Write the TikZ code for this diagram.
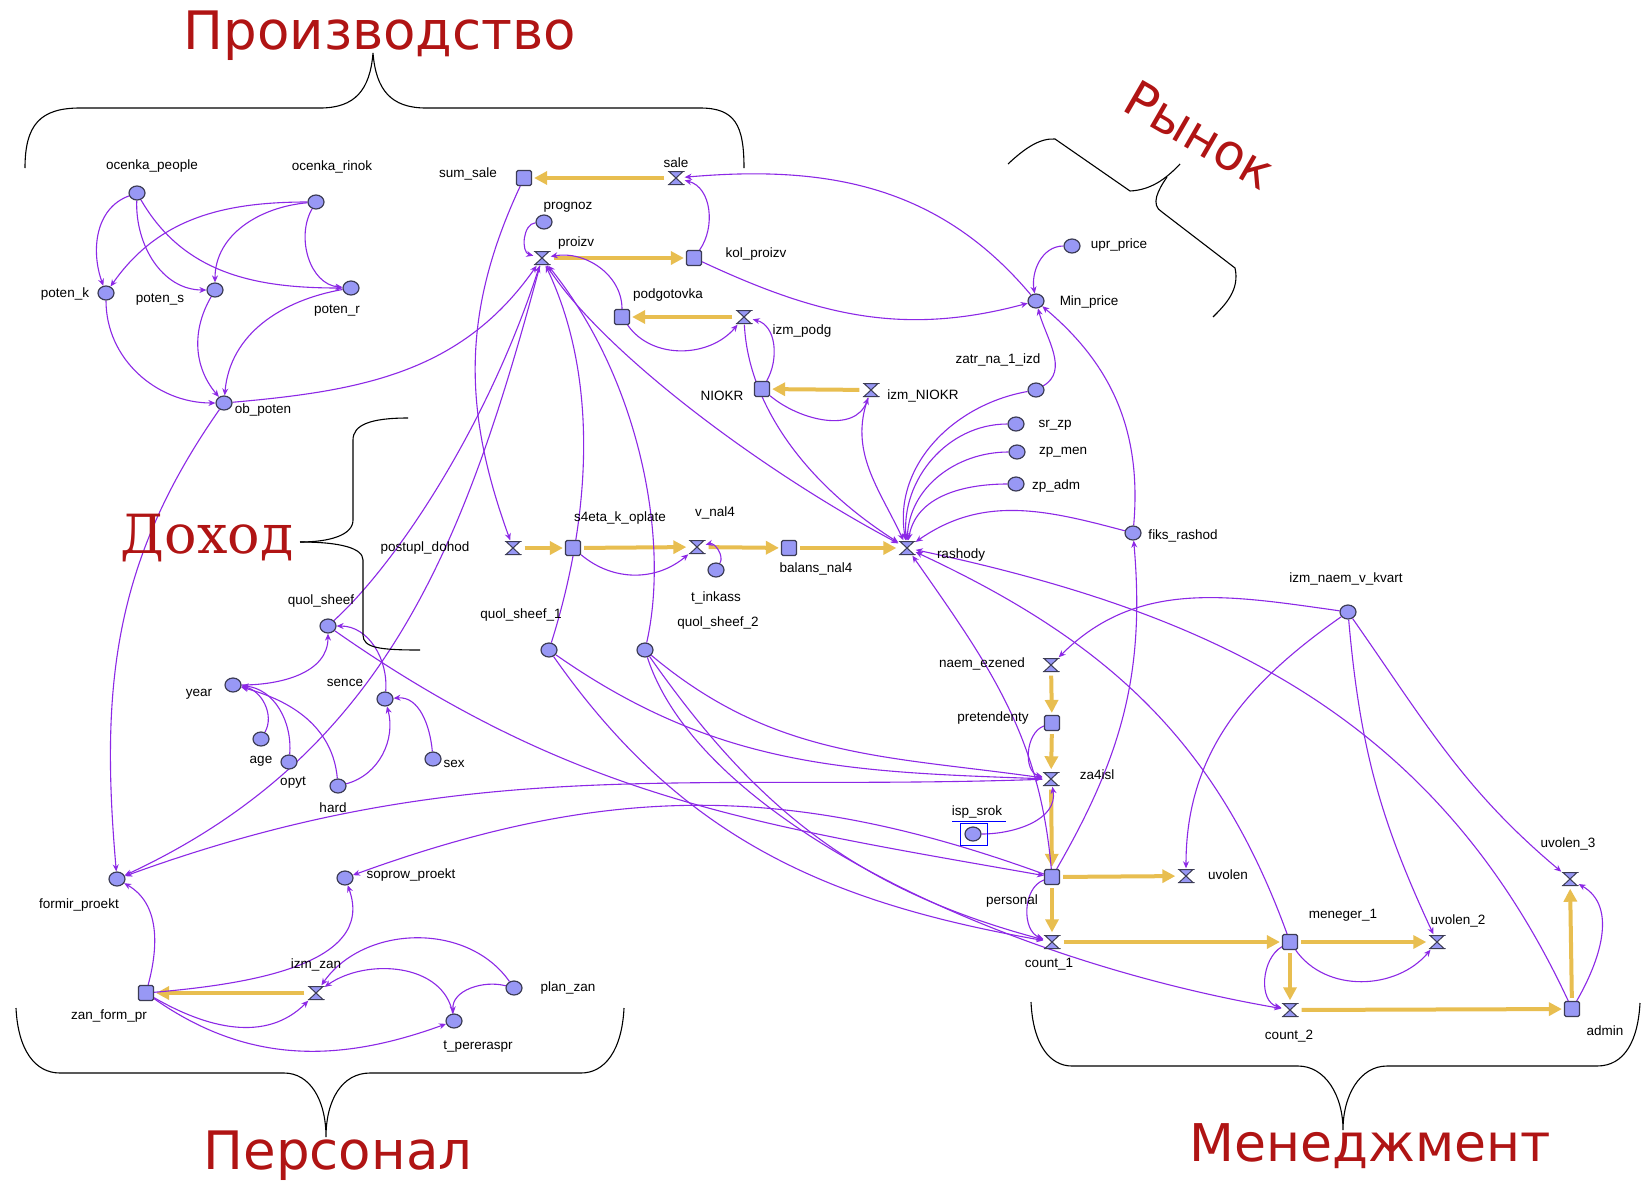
\documentclass[tikz,border=0pt]{standalone}
\usepackage{fontspec}
\setmainfont{Liberation Sans}
\newfontfamily\bigsans{DejaVu Sans}
\newfontfamily\bigserif{DejaVu Serif}
\usetikzlibrary{arrows.meta,shapes.geometric}
\pgfdeclarelayer{bg}
\pgfdeclarelayer{paper}
\pgfsetlayers{paper,bg,main}
\definecolor{linkc}{RGB}{140,40,230}
\definecolor{flowc}{RGB}{232,190,80}
\definecolor{nodefill}{RGB}{152,152,245}
\definecolor{nodedraw}{RGB}{60,60,85}
\definecolor{redtext}{RGB}{176,20,20}
\tikzset{
 aux/.style={ellipse,minimum width=16pt,minimum height=14pt,inner sep=0pt,fill=nodefill,draw=nodedraw,line width=1.2pt},
 stock/.style={rectangle,minimum size=15pt,inner sep=0pt,rounded corners=1.5pt,fill=nodefill,draw=nodedraw,line width=1.2pt},
 valve/.style={rectangle,minimum width=17pt,minimum height=15pt,inner sep=0pt,
  path picture={
   \path[fill=nodefill,draw=nodedraw,line width=1pt]
    ([xshift=1.5pt,yshift=-1pt]path picture bounding box.north west) --
    ([xshift=-1.5pt,yshift=-1pt]path picture bounding box.north east) --
    ([xshift=1.5pt,yshift=1pt]path picture bounding box.south west) --
    ([xshift=-1.5pt,yshift=1pt]path picture bounding box.south east) -- cycle;
   \draw[nodedraw,line width=1.8pt]
    ([yshift=-1pt]path picture bounding box.north west) -- ([yshift=-1pt]path picture bounding box.north east)
    ([yshift=1pt]path picture bounding box.south west) -- ([yshift=1pt]path picture bounding box.south east);
  }},
 lbl/.style={font=\fontsize{13.5}{15}\selectfont,inner sep=0pt,text=black},
 lnk/.style={draw=linkc,line width=1.1pt,-{Stealth[length=7pt,width=6pt]}},
 flow/.style={draw=flowc,line width=4pt,-{Triangle[length=13pt,width=13pt]},shorten >=2pt,shorten <=3pt},
 brace/.style={draw=black,line width=1.1pt},
 big/.style={text=redtext,inner sep=0pt}
}
\begin{document}
\begin{tikzpicture}[x=1pt,y=1pt]
\begin{pgfonlayer}{paper}
\fill[white] (0,0) rectangle (1648,-1181);
\end{pgfonlayer}
\useasboundingbox (0,0) rectangle (1648,-1181);

% ---------- big titles ----------
\node[big,font=\bigsans\fontsize{53}{60}\selectfont] (tProd) at (380,-36) {Производство};
\node[big,font=\bigsans\fontsize{50}{60}\selectfont,rotate=-30] (tRyn) at (1200,-135) {Рынок};
\node[big,font=\bigserif\fontsize{54}{60}\selectfont] (tDoh) at (207,-538) {Доход};
\node[big,font=\bigsans\fontsize{53}{60}\selectfont] (tPers) at (338,-1156) {Персонал};
\node[big,font=\bigsans\fontsize{52}{60}\selectfont] (tMen) at (1370,-1146) {Менеджмент};

% ---------- braces ----------
\draw[brace] (25,-168) .. controls (25,-125) and (40,-108) .. (80,-108) -- (320,-108)
  .. controls (355,-108) and (370,-90) .. (373,-53) .. controls (376,-90) and (391,-108) .. (426,-108)
  -- (700,-108) .. controls (735,-108) and (744,-125) .. (744,-168);
\draw[brace] (1008,-164) .. controls (1025,-148) and (1040,-138) .. (1055,-139) -- (1130,-191)
  .. controls (1150,-190) and (1165,-180) .. (1180,-164);
\draw[brace] (1167,-177) .. controls (1158,-190) and (1150,-205) .. (1162,-212) -- (1235,-268)
  .. controls (1240,-290) and (1225,-305) .. (1213,-317);
\draw[brace] (408,-418) .. controls (370,-418) and (353,-425) .. (353,-440) -- (353,-520)
  .. controls (353,-535) and (330,-542) .. (300,-542);
\draw[brace] (300,-542) .. controls (340,-542) and (363,-548) .. (363,-560) -- (363,-635)
  .. controls (363,-648) and (380,-650) .. (420,-650);
\draw[brace] (16,-1008) .. controls (18,-1050) and (35,-1073) .. (60,-1073) -- (284,-1073)
  .. controls (310,-1073) and (326,-1100) .. (326,-1137) .. controls (326,-1100) and (342,-1073) .. (370,-1073)
  -- (581,-1073) .. controls (605,-1073) and (622,-1050) .. (624,-1008);
\draw[brace] (1031,-1002) .. controls (1033,-1045) and (1050,-1066) .. (1072,-1066) -- (1298,-1066)
  .. controls (1325,-1066) and (1343,-1095) .. (1343,-1130) .. controls (1343,-1095) and (1360,-1066) .. (1387,-1066)
  -- (1597,-1066) .. controls (1625,-1066) and (1638,-1040) .. (1640,-1003);

% ---------- nodes ----------
\node[aux] (ocp) at (137,-193) {};
\node[aux] (ocr) at (316,-202) {};
\node[aux] (potk) at (106,-293) {};
\node[aux] (pots) at (215,-290) {};
\node[aux] (potr) at (351,-288) {};
\node[aux] (obp) at (224,-403) {};
\node[stock] (sumsale) at (524,-178) {};
\node[valve] (sale) at (676,-178) {};
\node[aux] (prognoz) at (544,-222) {};
\node[valve] (proizv) at (542,-258) {};
\node[stock] (kolproizv) at (694,-258) {};
\node[stock] (podg) at (622,-317) {};
\node[valve] (izmpodg) at (744,-317) {};
\node[stock] (niokr) at (762,-389) {};
\node[valve] (izmniokr) at (871,-390) {};
\node[aux] (uprprice) at (1072,-246) {};
\node[aux] (minprice) at (1036,-301) {};
\node[aux] (zatr) at (1036,-390) {};
\node[aux] (srzp) at (1016,-424) {};
\node[aux] (zpmen) at (1017,-452) {};
\node[aux] (zpadm) at (1016,-484) {};
\node[aux] (fiks) at (1133,-533) {};
\node[valve] (rashody) at (907,-548) {};
\node[valve] (postupl) at (513,-548) {};
\node[stock] (s4eta) at (573,-548) {};
\node[valve] (vnal) at (697,-547) {};
\node[aux] (tinkass) at (716,-570) {};
\node[stock] (balans) at (789,-548) {};
\node[aux] (qs) at (328,-626) {};
\node[aux] (qs1) at (549,-650) {};
\node[aux] (qs2) at (645,-650) {};
\node[aux] (year) at (233,-685) {};
\node[aux] (sence) at (385,-699) {};
\node[aux] (sex) at (433,-759) {};
\node[aux] (agec) at (261,-739) {};
\node[aux] (opyt) at (289,-762) {};
\node[aux] (hard) at (338,-786) {};
\node[valve] (naem) at (1051,-665) {};
\node[stock] (pret) at (1052,-723) {};
\node[valve] (za4isl) at (1051,-779) {};
\node[aux] (ispsrok) at (973,-834) {};
\node[stock] (personal) at (1052,-877) {};
\node[valve] (uvolen) at (1186,-876) {};
\node[valve] (count1) at (1052,-942) {};
\node[stock] (men1) at (1290,-942) {};
\node[valve] (uvolen2) at (1437,-942) {};
\node[valve] (count2) at (1290,-1010) {};
\node[stock] (admin) at (1572,-1009) {};
\node[valve] (uvolen3) at (1570,-879) {};
\node[aux] (izmnaem) at (1348,-612) {};
\node[aux] (formir) at (117,-879) {};
\node[aux] (soprow) at (345,-878) {};
\node[stock] (zanform) at (146,-993) {};
\node[valve] (izmzan) at (316,-993) {};
\node[aux] (planzan) at (514,-988) {};
\node[aux] (tper) at (454,-1021) {};

\draw[blue,line width=1pt] (960,-823) rectangle (987,-845);
\draw[blue,line width=1pt] (952,-821) -- (1006,-821);

% ---------- labels ----------
\node[lbl] (l1) at (152,-166) {ocenka\_people};
\node[lbl] (l2) at (332,-167) {ocenka\_rinok};
\node[lbl] (l3) at (65,-294) {poten\_k};
\node[lbl] (l4) at (160,-300) {poten\_s};
\node[lbl] (l5) at (337,-311) {poten\_r};
\node[lbl] (l6) at (263,-410) {ob\_poten};
\node[lbl] (l7) at (468,-174) {sum\_sale};
\node[lbl] (l8) at (676,-163) {sale};
\node[lbl] (l9) at (568,-207) {prognoz};
\node[lbl] (l10) at (576,-243) {proizv};
\node[lbl] (l11) at (756,-254) {kol\_proizv};
\node[lbl] (l12) at (668,-295) {podgotovka};
\node[lbl] (l13) at (802,-331) {izm\_podg};
\node[lbl] (l14) at (722,-396) {NIOKR};
\node[lbl] (l15) at (923,-396) {izm\_NIOKR};
\node[lbl] (l16) at (1119,-245) {upr\_price};
\node[lbl] (l17) at (1089,-302) {Min\_price};
\node[lbl] (l18) at (998,-360) {zatr\_na\_1\_izd};
\node[lbl] (l19) at (1055,-425) {sr\_zp};
\node[lbl] (l20) at (1063,-452) {zp\_men};
\node[lbl] (l21) at (1056,-486) {zp\_adm};
\node[lbl] (l22) at (1183,-536) {fiks\_rashod};
\node[lbl] (l23) at (961,-555) {rashody};
\node[lbl] (l24) at (425,-548) {postupl\_dohod};
\node[lbl] (l25) at (620,-518) {s4eta\_k\_oplate};
\node[lbl] (l26) at (715,-513) {v\_nal4};
\node[lbl] (l27) at (716,-598) {t\_inkass};
\node[lbl] (l28) at (816,-569) {balans\_nal4};
\node[lbl] (l29) at (321,-601) {quol\_sheef};
\node[lbl] (l30) at (521,-615) {quol\_sheef\_1};
\node[lbl] (l31) at (718,-623) {quol\_sheef\_2};
\node[lbl] (l32) at (199,-694) {year};
\node[lbl] (l33) at (345,-683) {sence};
\node[lbl] (l34) at (454,-764) {sex};
\node[lbl] (l35) at (261,-761) {age};
\node[lbl] (l36) at (293,-783) {opyt};
\node[lbl] (l37) at (333,-808) {hard};
\node[lbl] (l38) at (1346,-579) {izm\_naem\_v\_kvart};
\node[lbl] (l39) at (982,-664) {naem\_ezened};
\node[lbl] (l40) at (993,-718) {pretendenty};
\node[lbl] (l41) at (1097,-775) {za4isl};
\node[lbl] (l42) at (977,-812) {isp\_srok};
\node[lbl] (l43) at (1012,-901) {personal};
\node[lbl] (l44) at (1228,-875) {uvolen};
\node[lbl] (l45) at (1049,-964) {count\_1};
\node[lbl] (l46) at (1343,-915) {meneger\_1};
\node[lbl] (l47) at (1458,-921) {uvolen\_2};
\node[lbl] (l48) at (1289,-1036) {count\_2};
\node[lbl] (l49) at (1605,-1031) {admin};
\node[lbl] (l50) at (1568,-844) {uvolen\_3};
\node[lbl] (l51) at (79,-905) {formir\_proekt};
\node[lbl] (l52) at (411,-875) {soprow\_proekt};
\node[lbl] (l53) at (109,-1016) {zan\_form\_pr};
\node[lbl] (l54) at (316,-965) {izm\_zan};
\node[lbl] (l55) at (568,-988) {plan\_zan};
\node[lbl] (l56) at (478,-1047) {t\_pereraspr};

\begin{pgfonlayer}{bg}
% ---------- flows ----------
\draw[flow] (sale) -- (sumsale);
\draw[flow] (proizv) -- (kolproizv);
\draw[flow] (izmpodg) -- (podg);
\draw[flow] (izmniokr) -- (niokr);
\draw[flow] (postupl) -- (s4eta);
\draw[flow] (s4eta) -- (vnal);
\draw[flow] (vnal) -- (balans);
\draw[flow] (balans) -- (rashody);
\draw[flow] (naem) -- (pret);
\draw[flow] (pret) -- (za4isl);
\draw[flow] (za4isl) -- (personal);
\draw[flow] (personal) -- (uvolen);
\draw[flow] (personal) -- (count1);
\draw[flow] (count1) -- (men1);
\draw[flow] (men1) -- (uvolen2);
\draw[flow] (men1) -- (count2);
\draw[flow] (count2) -- (admin);
\draw[flow] (admin) -- (uvolen3);
\draw[flow] (izmzan) -- (zanform);

% ---------- links: production ----------
\draw[lnk] (ocp) to[out=200,in=110] (potk);
\draw[lnk] (ocp) to[out=268,in=180] (pots);
\draw[lnk] (ocp) to[out=-60,in=180] (potr);
\draw[lnk] (ocr) to[out=180,in=55] (potk);
\draw[lnk] (ocr) to[out=185,in=90] (pots);
\draw[lnk] (ocr) to[out=240,in=175] (potr);
\draw[lnk] (potk) to[out=270,in=180] (obp);
\draw[lnk] (pots) to[out=240,in=130] (obp);
\draw[lnk] (potr) to[out=190,in=85] (obp);
\draw[lnk] (obp) to[out=5,in=235] (proizv);
\draw[lnk] (obp) to[out=235,in=95] (formir);
\draw[lnk] (sumsale) to[out=245,in=110] (postupl);
\draw[lnk] (prognoz) to[out=185,in=165] (proizv);
\draw[lnk] (podg) to[out=90,in=10] (proizv);
\draw[lnk] (kolproizv) to[out=55,in=-15] (sale);
\draw[lnk] (minprice) to[out=130,in=5] (sale);
\draw[lnk] (kolproizv) to[out=-25,in=195] (minprice);
\draw[lnk] (uprprice) to[out=180,in=100] (minprice);
\draw[lnk] (fiks) to[out=85,in=-40] (minprice);
\draw[lnk] (zatr) to[out=30,in=-75] (minprice);
\draw[lnk] (podg) to[out=-55,in=230] (izmpodg);
\draw[lnk] (niokr) to[out=60,in=-15] (izmpodg);
\draw[lnk] (niokr) to[out=-40,in=250] (izmniokr);
\draw[lnk] (izmpodg) .. controls (748,-400) and (800,-480) .. (rashody);
\draw[lnk] (izmniokr) to[out=250,in=115] (rashody);
\draw[lnk] (proizv) .. controls (600,-350) and (760,-470) .. (rashody);
\draw[lnk] (srzp) to[out=180,in=95] (rashody);
\draw[lnk] (zpmen) to[out=180,in=88] (rashody);
\draw[lnk] (zpadm) to[out=180,in=80] (rashody);
\draw[lnk] (zatr) to[out=190,in=100] (rashody);
\draw[lnk] (fiks) to[out=165,in=35] (rashody);
\draw[lnk] (personal) to[out=95,in=-55] (rashody);
\draw[lnk] (men1) to[out=110,in=-25] (rashody);
\draw[lnk] (admin) to[out=115,in=-12] (rashody);
\draw[lnk] (personal) to[out=60,in=-85] (fiks);
\draw[lnk] (s4eta) to[out=-40,in=220] (vnal);
\draw[lnk] (tinkass) to[out=60,in=15] (vnal);

% ---------- links: income / quality ----------
\draw[lnk] (qs) .. controls (400,-560) and (490,-420) .. (proizv);
\draw[lnk] (proizv) to[out=255,in=25] (formir);
\draw[lnk] (qs1) .. controls (590,-520) and (600,-380) .. (proizv);
\draw[lnk] (qs2) .. controls (670,-540) and (640,-380) .. (proizv);
\draw[lnk] (year) to[out=0,in=-90] (qs);
\draw[lnk] (agec) to[out=60,in=-10] (year);
\draw[lnk] (opyt) to[out=85,in=-5] (year);
\draw[lnk] (hard) to[out=95,in=-15] (year);
\draw[lnk] (hard) to[out=15,in=-75] (sence);
\draw[lnk] (sex) to[out=95,in=5] (sence);
\draw[lnk] (sence) to[out=85,in=0] (qs);

% ---------- links: middle bundle ----------
\draw[lnk] (qs) to[out=-35,in=170] (personal);
\draw[lnk] (qs1) to[out=-35,in=178] (za4isl);
\draw[lnk] (qs2) to[out=-40,in=172] (za4isl);
\draw[lnk] (za4isl) to[out=182,in=20] (formir);
\draw[lnk] (personal) to[out=160,in=20] (soprow);
\draw[lnk] (qs1) to[out=-55,in=170] (count1);
\draw[lnk] (qs2) to[out=-55,in=165] (count1);
\draw[lnk] (qs2) .. controls (700,-820) and (1000,-960) .. (count2);

% ---------- links: management ----------
\draw[lnk] (pret) to[out=200,in=165] (za4isl);
\draw[lnk] (ispsrok) to[out=0,in=-80] (za4isl);
\draw[lnk] (personal) to[out=200,in=160] (count1);
\draw[lnk] (men1) to[out=210,in=165] (count2);
\draw[lnk] (men1) to[out=-55,in=230] (uvolen2);
\draw[lnk] (admin) to[out=60,in=-30] (uvolen3);
\draw[lnk] (izmnaem) to[out=172,in=45] (naem);
\draw[lnk] (izmnaem) to[out=215,in=90] (uvolen);
\draw[lnk] (izmnaem) to[out=-85,in=115] (uvolen2);
\draw[lnk] (izmnaem) to[out=-55,in=140] (uvolen3);

% ---------- links: personnel ----------
\draw[lnk] (zanform) to[out=75,in=-30] (formir);
\draw[lnk] (zanform) to[out=5,in=-70] (soprow);
\draw[lnk] (zanform) to[out=-30,in=225] (izmzan);
\draw[lnk] (zanform) to[out=-35,in=200] (tper);
\draw[lnk] (planzan) to[out=125,in=55] (izmzan);
\draw[lnk] (tper) to[out=100,in=35] (izmzan);
\draw[lnk] (planzan) to[out=165,in=95] (tper);
\end{pgfonlayer}
\end{tikzpicture}
\end{document}
